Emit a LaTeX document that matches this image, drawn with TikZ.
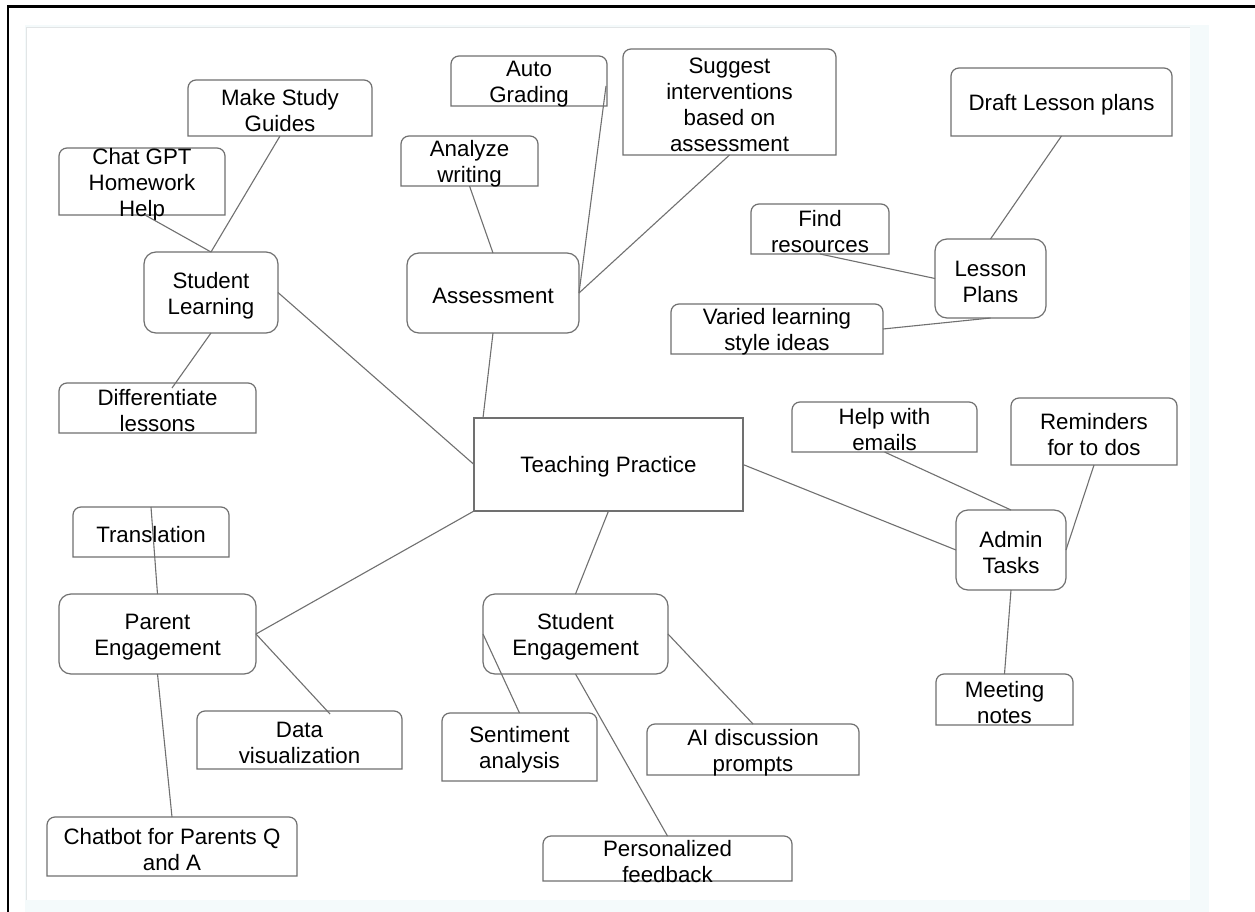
\documentclass[tikz,border=0pt]{standalone}
\usepackage{fontspec}
\setmainfont{Liberation Sans}
\usetikzlibrary{calc}
\definecolor{edge}{RGB}{112,112,112}
\definecolor{bgcyan}{RGB}{244,250,251}
\definecolor{rimgray}{RGB}{226,229,230}
\tikzset{
  conn/.style={draw=edge, line width=1.1bp},
  boxline/.style={draw=edge, line width=1.2bp},
  holder/.style={inner sep=0pt, outer sep=0pt},
  txt/.style={font=\fontsize{22.3bp}{26bp}\selectfont, align=center, inner sep=0pt, text=black},
}
\newcommand\rr{8bp}
% leaf: rounded top corners, square bottom
\newcommand\leafbox[6]{%
  \node[holder, minimum width=#4bp, minimum height=#5bp] (#1) at (#2,#3) {};
  \draw[boxline] (#1.south west) -- ([yshift=-\rr]#1.north west)
     arc[start angle=180, end angle=90, radius=\rr]
     -- ([xshift=-\rr]#1.north east)
     arc[start angle=90, end angle=0, radius=\rr]
     -- (#1.south east) -- cycle;
  \node[txt] (#1-t) at ([yshift=-3bp]#1.center) {#6};
}
% hub: all corners rounded
\newcommand\hubbox[6]{%
  \node[holder, minimum width=#4bp, minimum height=#5bp] (#1) at (#2,#3) {};
  \draw[boxline, rounded corners=12bp] (#1.south west) rectangle (#1.north east);
  \node[txt] (#1-t) at ([yshift=-3bp]#1.center) {#6};
}
\begin{document}
\begin{tikzpicture}[x=1bp, y=-1bp]
\useasboundingbox (0,0) rectangle (1255,912);
% background
\fill[white] (0,0) rectangle (1255,912);
\fill[bgcyan] (25,25) rectangle (1209,912);
\fill[white] (26,27) rectangle (1190,900);
\draw[rimgray, line width=1bp] (26,900) -- (26,27) -- (1190,27);
\draw[black, line width=2.6bp] (7.8,912) -- (7.8,6.2) -- (1255,6.2);

% central box placeholder
\node[holder, minimum width=269bp, minimum height=93bp] (tp) at (608.5,464.5) {};

% ---------- hubs ----------
\hubbox{sl}{211}{292.5}{134}{81}{Student\\Learning}
\hubbox{as}{493}{293}{172}{80}{Assessment}
\hubbox{lp}{990.5}{278.5}{111}{79}{Lesson\\Plans}
\hubbox{pe}{157.5}{634}{197}{80}{Parent\\Engagement}
\hubbox{se}{575.5}{634}{185}{80}{Student\\Engagement}
\hubbox{at}{1011}{550}{110}{80}{Admin\\Tasks}

% ---------- leaves ----------
\leafbox{msg}{280}{108}{184}{56}{Make Study\\Guides}
\leafbox{cgpt}{142}{181.5}{166}{67}{Chat GPT\\Homework\\Help}
\leafbox{diff}{157.5}{408}{197}{50}{Differentiate\\lessons}
\leafbox{trans}{151}{532}{156}{50}{Translation}
\leafbox{dv}{299.5}{740}{205}{58}{Data\\visualization}
\leafbox{chat}{172}{846.5}{250}{59}{Chatbot for Parents Q\\and A}
\leafbox{ag}{529}{81}{156}{50}{Auto\\Grading}
\leafbox{aw}{469.5}{161}{137}{50}{Analyze\\writing}
\leafbox{sug}{729.5}{102}{213}{106}{Suggest\\interventions\\based on\\assessment}
\leafbox{dlp}{1061.5}{102}{221}{68}{Draft Lesson plans}
\leafbox{fr}{820}{229}{138}{50}{Find\\resources}
\leafbox{vls}{777}{329}{212}{50}{Varied learning\\style ideas}
\leafbox{hwe}{884.5}{427}{185}{50}{Help with\\emails}
\leafbox{rtd}{1094}{431.5}{166}{67}{Reminders\\for to dos}
\leafbox{mn}{1004.5}{699.5}{137}{51}{Meeting\\notes}
\leafbox{sa}{519.5}{747}{155}{68}{Sentiment\\analysis}
\leafbox{aid}{753}{749.5}{212}{51}{AI discussion\\prompts}
\leafbox{pf}{667.5}{858.5}{249}{45}{Personalized\\feedback}

% central box
\draw[boxline] (tp.south west) rectangle (tp.north east);
\node[txt] (tp-t) at ([yshift=-2bp]tp.center) {Teaching Practice};

% ---------- connectors ----------
\draw[conn] (msg.south) -- (sl.north);
\draw[conn] ([xshift=3bp]cgpt.south) -- (sl.north);
\draw[conn] (sl.east) -- (tp.west);
\draw[conn] (sl.south) -- ([xshift=14.5bp,yshift=-5bp]diff.north);
\draw[conn] (as.south) -- ([xshift=9bp]tp.north west);
\draw[conn] (tp.south west) -- (pe.east);
\draw[conn] (pe.north) -- (trans.north);
\draw[conn] (pe.south) -- (chat.north);
\draw[conn] (pe.east) -- ([xshift=30.5bp,yshift=-3bp]dv.north);
\draw[conn] (aw.south) -- (as.north);
\draw[conn] ([xshift=-1bp,yshift=-5bp]ag.east) -- (as.east);
\draw[conn] (sug.south) -- (as.east);
\draw[conn] (dlp.south) -- (lp.north);
\draw[conn] (fr.south) -- (lp.west);
\draw[conn] (vls.east) -- (lp.south);
\draw[conn] (tp.east) -- (at.west);
\draw[conn] (hwe.south) -- (at.north);
\draw[conn] (rtd.south) -- (at.east);
\draw[conn] (at.south) -- (mn.north);
\draw[conn] (tp.south) -- (se.north);
\draw[conn] (se.west) -- (sa.north);
\draw[conn] (se.south) -- (pf.north);
\draw[conn] (se.east) -- (aid.north);
\end{tikzpicture}
\end{document}
